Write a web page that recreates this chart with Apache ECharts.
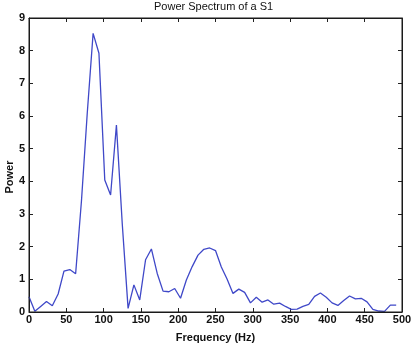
<!DOCTYPE html>
<html>
<head>
<meta charset="utf-8">
<script src="https://cdn.jsdelivr.net/npm/echarts@6/dist/echarts.min.js"></script>
<style>html,body{margin:0;padding:0;background:#fff;}#c{width:412px;height:343px;}</style>
</head>
<body>
<div id="c"></div>
<script>
// Frequency bins (Hz): k * 7.8125
var binStep = 7.8125;
var power = [
  0.47, 0.02, 0.17, 0.32, 0.19, 0.55, 1.25, 1.30, 1.17, 3.4,
  6.1, 8.53, 7.92, 4.04, 3.58, 5.72, 2.7, 0.11, 0.83, 0.37,
  1.6, 1.93, 1.18, 0.64, 0.62, 0.72, 0.42, 0.98, 1.39, 1.74,
  1.92, 1.96, 1.88, 1.38, 1.0, 0.57, 0.70, 0.60, 0.28, 0.45,
  0.30, 0.37, 0.24, 0.27, 0.17, 0.08, 0.09, 0.17, 0.23, 0.48,
  0.58, 0.45, 0.28, 0.20, 0.35, 0.49, 0.40, 0.42, 0.31, 0.08,
  0.03, 0.02, 0.21, 0.21
];
var freqs = power.map(function (v, i) { return i * binStep; });
var xTicks = [0, 50, 100, 150, 200, 250, 300, 350, 400, 450, 500];
var yTicks = [0, 1, 2, 3, 4, 5, 6, 7, 8, 9];

var chart = echarts.init(document.getElementById('c'));
var font = 'Liberation Sans, Arial, sans-serif';
var lineStyle = { color: '#1a1a1a', width: 1 };
var tick = { show: true, inside: true, length: 4, lineStyle: { color: '#222' } };
chart.setOption({
  animation: false,
  backgroundColor: '#fff',
  title: {
    text: 'Power Spectrum of a S1',
    left: 149, top: -4,
    textStyle: { fontFamily: font, fontSize: 11, fontWeight: 'normal', color: '#111' }
  },
  grid: { left: 29, right: 10, top: 18, bottom: 31, outerBoundsMode: 'none',
          show: true, borderColor: '#1a1a1a', borderWidth: 1, backgroundColor: 'rgba(0,0,0,0)', z: 10 },
  xAxis: [{
    type: 'value', min: xTicks[0], max: xTicks[xTicks.length - 1], interval: 50,
    name: 'Frequency (Hz)', nameLocation: 'middle', nameGap: 20, nameMoveOverlap: false,
    nameTextStyle: { fontFamily: font, fontSize: 11, fontWeight: 'bold', color: '#111' },
    axisLine: { show: true, lineStyle: lineStyle }, axisTick: tick, splitLine: { show: false },
    axisLabel: { fontFamily: font, fontSize: 11, fontWeight: 'bold', color: '#111', margin: 2 }
  }, {
    type: 'value', position: 'top', min: xTicks[0], max: xTicks[xTicks.length - 1], interval: 50,
    axisLine: { show: true, onZero: false, lineStyle: lineStyle }, axisTick: tick, splitLine: { show: false }, axisLabel: { show: false }
  }],
  yAxis: [{
    type: 'value', min: yTicks[0], max: yTicks[yTicks.length - 1], interval: 1,
    name: 'Power', nameLocation: 'middle', nameGap: 14, nameMoveOverlap: false,
    nameTextStyle: { fontFamily: font, fontSize: 11, fontWeight: 'bold', color: '#111', padding: [0, 24, 0, 0] },
    axisLine: { show: true, lineStyle: lineStyle }, axisTick: tick, splitLine: { show: false },
    axisLabel: { fontFamily: font, fontSize: 11, fontWeight: 'bold', color: '#111', margin: 4 }
  }, {
    type: 'value', position: 'right', min: yTicks[0], max: yTicks[yTicks.length - 1], interval: 1,
    axisLine: { show: true, onZero: false, lineStyle: lineStyle }, axisTick: tick, splitLine: { show: false }, axisLabel: { show: false }
  }],
  series: [{
    type: 'line',
    data: freqs.map(function (f, i) { return [f, power[i]]; }),
    showSymbol: false,
    lineStyle: { color: '#3f48c8', width: 1.3 },
    itemStyle: { color: '#3f48c8' }
  }]
});
</script>
</body>
</html>
